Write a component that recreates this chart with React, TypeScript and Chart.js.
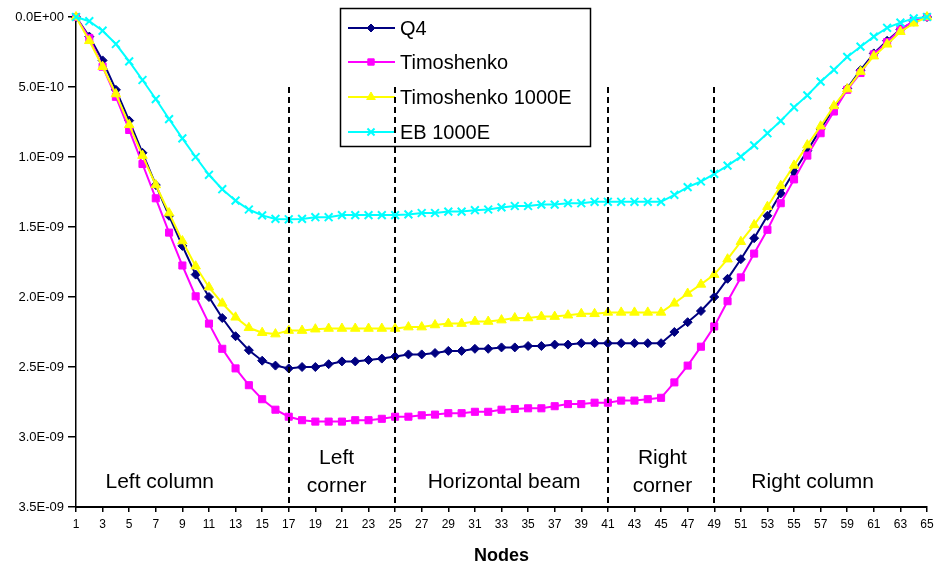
import React, { useEffect, useRef } from 'react';
import { Chart, registerables } from 'chart.js';

Chart.register(...registerables);

// ---------- data ----------
const nodes: number[] = Array.from({ length: 65 }, (_, i) => i + 1);
const UNIT = 1e-10; // values below are in units of 1E-10

const q4 = [
  0, 1.4, 3.1, 5.2, 7.4, 9.7, 12.0, 14.2, 16.35, 18.4,
  20.0, 21.5, 22.8, 23.8, 24.55, 24.9, 25.1, 25.0, 25.0, 24.8,
  24.6, 24.6, 24.5, 24.4, 24.25, 24.1, 24.1, 24.0, 23.85, 23.85,
  23.7, 23.7, 23.6, 23.6, 23.5, 23.5, 23.4, 23.4, 23.3, 23.3,
  23.3, 23.3, 23.3, 23.3, 23.3, 22.5, 21.8, 21.0, 20.0, 18.7,
  17.3, 15.8, 14.2, 12.6, 11.05, 9.55, 8.0, 6.5, 5.1, 3.8,
  2.6, 1.7, 0.88, 0.33, 0,
];

const timoshenko = [
  0, 1.5, 3.55, 5.7, 8.07, 10.5, 12.95, 15.4, 17.75, 19.95,
  21.9, 23.7, 25.1, 26.3, 27.3, 28.05, 28.55, 28.8, 28.9, 28.9,
  28.9, 28.8, 28.8, 28.7, 28.55, 28.55, 28.45, 28.4, 28.3, 28.3,
  28.2, 28.2, 28.05, 28.0, 27.95, 27.95, 27.8, 27.65, 27.65, 27.55,
  27.55, 27.4, 27.4, 27.3, 27.2, 26.1, 24.9, 23.55, 22.1, 20.3,
  18.6, 16.9, 15.2, 13.3, 11.6, 9.9, 8.3, 6.75, 5.2, 4.0,
  2.67, 1.8, 0.88, 0.29, 0,
];

const timoshenko1000E = [
  0, 1.7, 3.55, 5.5, 7.7, 9.9, 12.0, 14.0, 16.0, 17.8,
  19.3, 20.45, 21.45, 22.2, 22.55, 22.65, 22.4, 22.4, 22.3, 22.25,
  22.25, 22.25, 22.25, 22.25, 22.25, 22.15, 22.15, 22.0, 21.9, 21.9,
  21.75, 21.75, 21.65, 21.5, 21.5, 21.4, 21.4, 21.3, 21.2, 21.2,
  21.1, 21.1, 21.1, 21.1, 21.1, 20.45, 19.75, 19.1, 18.4, 17.3,
  16.05, 14.85, 13.55, 12.05, 10.6, 9.15, 7.8, 6.35, 5.15, 3.9,
  2.8, 1.95, 1.05, 0.45, 0,
];

const eb1000E = [
  0, 0.3, 0.98, 1.93, 3.17, 4.5, 5.86, 7.29, 8.67, 10.0,
  11.27, 12.3, 13.12, 13.75, 14.17, 14.42, 14.45, 14.42, 14.3, 14.3,
  14.15, 14.15, 14.15, 14.15, 14.15, 14.1, 14.0, 14.0, 13.9, 13.9,
  13.8, 13.75, 13.6, 13.5, 13.5, 13.4, 13.4, 13.3, 13.3, 13.2,
  13.2, 13.2, 13.2, 13.2, 13.2, 12.7, 12.15, 11.75, 11.2, 10.62,
  9.97, 9.17, 8.3, 7.42, 6.45, 5.6, 4.62, 3.77, 2.85, 2.12,
  1.4, 0.77, 0.4, 0.1, 0,
];

const seriesLabels = ['Q4', 'Timoshenko', 'Timoshenko 1000E', 'EB 1000E'];
const yMin = 0;
const yMax = 3.5e-9;
const yStep = 5e-10;
const xMin = 1;
const xMax = 65;
const xStep = 2;
const boundaryNodes = [17, 25, 41, 49];
const regionLabels = [
  ['Left column'],
  ['Left', 'corner'],
  ['Horizontal beam'],
  ['Right', 'corner'],
  ['Right column'],
];
const xTitle = 'Nodes';

// ---------- styling ----------
const FONT = "'Liberation Sans', Arial, Helvetica, sans-serif";
const styles = [
  { color: '#000080', pointStyle: 'rectRot', radius: 4.5, pbw: 1 },
  { color: '#FF00FF', pointStyle: 'rect', radius: 5, pbw: 1 },
  { color: '#FFFF00', pointStyle: 'triangle', radius: 5.5, pbw: 1 },
  { color: '#00FFFF', pointStyle: 'crossRot', radius: 5.5, pbw: 2 },
];
const regionCenters = [7.3, 20.6, 33.2, 45.1, 56.4];

function fmtSci(v: number): string {
  if (Math.abs(v) < 1e-15) return '0.0E+00';
  let e = Math.floor(Math.log10(Math.abs(v)));
  let m = v / Math.pow(10, e);
  if (Math.abs(m) >= 9.95) {
    m /= 10;
    e += 1;
  }
  const sign = e < 0 ? '-' : '+';
  return m.toFixed(1) + 'E' + sign + String(Math.abs(e)).padStart(2, '0');
}

function drawMarker(ctx: CanvasRenderingContext2D, style: string, x: number, y: number, r: number, color: string, lw: number) {
  ctx.save();
  ctx.fillStyle = color;
  ctx.strokeStyle = color;
  ctx.lineWidth = lw;
  ctx.beginPath();
  if (style === 'rectRot') {
    ctx.moveTo(x - r, y);
    ctx.lineTo(x, y - r);
    ctx.lineTo(x + r, y);
    ctx.lineTo(x, y + r);
    ctx.closePath();
    ctx.fill();
    ctx.stroke();
  } else if (style === 'rect') {
    const s = r * Math.SQRT1_2;
    ctx.rect(x - s, y - s, 2 * s, 2 * s);
    ctx.fill();
    ctx.stroke();
  } else if (style === 'triangle') {
    for (let k = 0; k < 3; k++) {
      const a = (k * 2 * Math.PI) / 3;
      const px = x + Math.sin(a) * r;
      const py = y - Math.cos(a) * r;
      if (k === 0) ctx.moveTo(px, py);
      else ctx.lineTo(px, py);
    }
    ctx.closePath();
    ctx.fill();
    ctx.stroke();
  } else {
    const d = r * Math.SQRT1_2;
    ctx.moveTo(x - d, y - d);
    ctx.lineTo(x + d, y + d);
    ctx.moveTo(x + d, y - d);
    ctx.lineTo(x - d, y + d);
    ctx.stroke();
  }
  ctx.restore();
}

const overlayPlugin = {
  id: 'overlay',
  afterDatasetsDraw(chart: any) {
    const { ctx, chartArea } = chart;
    const xs = chart.scales.x;
    const ys = chart.scales.y;

    // legend (no fill, dashed lines cross it)
    const lx = 340;
    const ly = 8;
    const lw = 250;
    const lh = 138;
    ctx.save();
    ctx.strokeStyle = '#000';
    ctx.lineWidth = 1.5;
    ctx.strokeRect(lx + 0.5, ly + 0.5, lw, lh);
    const rowY = [28, 62, 97, 132];
    chart.data.datasets.forEach((ds: any, i: number) => {
      const st = styles[i];
      const y = rowY[i];
      ctx.strokeStyle = st.color;
      ctx.lineWidth = 2;
      ctx.beginPath();
      ctx.moveTo(348, y);
      ctx.lineTo(395, y);
      ctx.stroke();
      drawMarker(ctx, st.pointStyle, 371, y, st.radius - 0.5, st.color, st.pbw);
      ctx.fillStyle = '#000';
      ctx.font = `20px ${FONT}`;
      ctx.textAlign = 'left';
      ctx.textBaseline = 'middle';
      ctx.fillText(ds.label, 400, y + 1);
    });
    ctx.restore();

    // dashed region boundaries
    ctx.save();
    ctx.strokeStyle = '#000';
    ctx.lineWidth = 2;
    ctx.setLineDash([6, 4]);
    const topY = ys.getPixelForValue(yStep);
    boundaryNodes.forEach((n) => {
      const px = Math.round(xs.getPixelForValue(n));
      ctx.beginPath();
      ctx.moveTo(px, topY);
      ctx.lineTo(px, chartArea.bottom);
      ctx.stroke();
    });
    ctx.restore();

    // region labels
    ctx.save();
    ctx.fillStyle = '#000';
    ctx.font = `21px ${FONT}`;
    ctx.textAlign = 'center';
    ctx.textBaseline = 'alphabetic';
    regionLabels.forEach((lines, i) => {
      const cx = xs.getPixelForValue(regionCenters[i]);
      if (lines.length === 1) {
        ctx.fillText(lines[0], cx, 488);
      } else {
        ctx.fillText(lines[0], cx, 464);
        ctx.fillText(lines[1], cx, 492);
      }
    });
    ctx.restore();
  },
};

export default function App() {
  const ref = useRef<HTMLCanvasElement>(null);

  useEffect(() => {
    if (!ref.current) return;
    Chart.defaults.font.family = FONT;
    const seriesValues = [q4, timoshenko, timoshenko1000E, eb1000E];
    const chart = new Chart(ref.current, {
      type: 'line',
      data: {
        datasets: seriesValues.map((vals, i) => ({
          label: seriesLabels[i],
          data: nodes.map((n, j) => ({ x: n, y: vals[j] * UNIT })),
          borderColor: styles[i].color,
          backgroundColor: styles[i].color,
          pointBackgroundColor: styles[i].color,
          pointBorderColor: styles[i].color,
          pointStyle: styles[i].pointStyle as any,
          pointRadius: styles[i].radius,
          pointBorderWidth: styles[i].pbw,
          borderWidth: 2,
          tension: 0,
          fill: false,
          clip: false as any,
          order: 4 - i,
        })),
      },
      options: {
        animation: false,
        responsive: false,
        devicePixelRatio: 1,
        layout: { padding: { top: 17, right: 8, left: 0, bottom: 0 } },
        plugins: {
          legend: { display: false },
          tooltip: { enabled: false },
        },
        scales: {
          x: {
            type: 'linear',
            min: xMin,
            max: xMax,
            ticks: {
              stepSize: xStep,
              autoSkip: false,
              maxRotation: 0,
              color: '#000',
              font: { family: FONT, size: 12 },
              padding: 5,
            },
            grid: {
              display: true,
              drawOnChartArea: false,
              drawTicks: true,
              tickLength: 5,
              color: '#000',
              lineWidth: 1.5,
            },
            border: { display: true, color: '#000', width: 2 },
            title: {
              display: true,
              text: xTitle,
              color: '#000',
              font: { family: FONT, size: 18, weight: 'bold' },
              padding: { top: 4, bottom: 0 },
            },
            afterFit: (s: any) => {
              s.height = 60;
              s.paddingLeft = 0;
              s.paddingRight = 0;
            },
          },
          y: {
            type: 'linear',
            reverse: true,
            min: yMin,
            max: yMax,
            ticks: {
              stepSize: yStep,
              color: '#000',
              font: { family: FONT, size: 13 },
              padding: 4,
              callback: (v: any) => fmtSci(Number(v)),
            },
            grid: {
              display: true,
              drawOnChartArea: false,
              drawTicks: true,
              tickLength: 8,
              color: '#000',
              lineWidth: 1.5,
            },
            border: { display: true, color: '#000', width: 1.5 },
            afterFit: (s: any) => {
              s.width = 76;
              s.paddingTop = 0;
              s.paddingBottom = 0;
            },
          },
        },
      } as any,
      plugins: [overlayPlugin],
    });
    return () => chart.destroy();
  }, []);

  return (
    <div style={{ position: 'fixed', left: 0, top: 0, width: 935, height: 567, background: '#fff' }}>
      <canvas ref={ref} width={935} height={567} style={{ display: 'block' }} />
    </div>
  );
}
